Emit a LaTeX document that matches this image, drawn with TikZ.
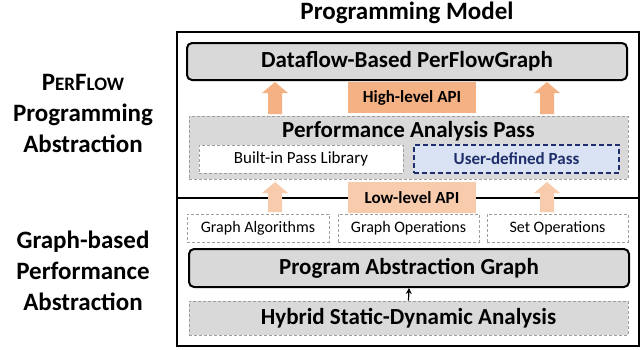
\documentclass[tikz,border=0pt]{standalone}
\usepackage{fontspec}
\setmainfont{Carlito}
\usetikzlibrary{arrows.meta}
\definecolor{boxgray}{HTML}{D9D9D9}
\definecolor{dashgray}{HTML}{9E9E9E}
\definecolor{hiorange}{HTML}{F4B183}
\definecolor{loorange}{HTML}{F8CBAD}
\definecolor{userblue}{HTML}{DAE3F3}
\definecolor{navy}{HTML}{1F2F6B}
\tikzset{
  mainbox/.style={draw=black, line width=2pt, rounded corners=5pt, fill=boxgray, inner sep=0pt},
  dashbox/.style={draw=dashgray, line width=0.9pt, dash pattern=on 3pt off 2pt, inner sep=0pt},
  apibox/.style={inner sep=0pt, font=\bfseries\fontsize{17}{20}\selectfont},
  bigtext/.style={font=\bfseries\fontsize{23}{28}\selectfont},
  smalltext/.style={font=\fontsize{16}{19}\selectfont},
  sidelabel/.style={align=center, font=\bfseries\fontsize{25}{31}\selectfont},
}
\begin{document}
\begin{tikzpicture}[x=1pt,y=-1pt]
\useasboundingbox (0,0) rectangle (642,349);
% title
\node[font=\bfseries\fontsize{25}{30}\selectfont] (title) at (407,13) {Programming Model};
% outer frame
\node[draw=black, line width=1.2pt, minimum width=462pt, minimum height=314pt, inner sep=0pt] (frame) at (408,189) {};
% divider
\coordinate (divL) at (177,198);
\coordinate (divR) at (639,198);
\draw[line width=1.2pt] (divL) -- (divR);
% side labels
\node[sidelabel] (lblA) at (83,113) {P{\fontsize{19}{31}\selectfont ER}F{\fontsize{19}{31}\selectfont LOW}\\Programming\\Abstraction};
\node[sidelabel] (lblB) at (83,271) {Graph-based\\Performance\\Abstraction};
% top
\node[mainbox, bigtext, minimum width=440pt, minimum height=37pt] (pfg) at (407,61.5) {Dataflow-Based PerFlowGraph};
\node[apibox, fill=hiorange, minimum width=128pt, minimum height=31pt] (hapi) at (412,97.5) {High-level API};
% pass box
\node[dashbox, fill=boxgray, minimum width=439pt, minimum height=63pt] (pap) at (408.5,147.5) {};
\node[bigtext] (paptxt) at (408.5,131) {Performance Analysis Pass};
\node[dashbox, fill=white, font=\fontsize{17}{20}\selectfont, minimum width=204pt, minimum height=28pt] (lib) at (301,159) {Built-in Pass Library};
\node[draw=navy, line width=1.8pt, dash pattern=on 5pt off 3pt, fill=userblue, inner sep=0pt, text=navy, font=\bfseries\fontsize{17}{20}\selectfont, minimum width=205pt, minimum height=28pt] (user) at (516.5,159) {User-defined Pass};
% upper arrows
\foreach \cx in {275,547} {
  \fill[hiorange] (\cx-7,114) -- (\cx-7,93) -- (\cx-13,93) -- (\cx,82) -- (\cx+13,93) -- (\cx+7,93) -- (\cx+7,114) -- cycle;
}
% lower arrows
\foreach \cx in {275,547} {
  \fill[loorange] (\cx-7,212) -- (\cx-7,193) -- (\cx-13,193) -- (\cx,182) -- (\cx+13,193) -- (\cx+7,193) -- (\cx+7,212) -- cycle;
}
\node[apibox, fill=loorange, minimum width=128pt, minimum height=31pt] (lapi) at (412,197.5) {Low-level API};
% operations
\node[dashbox, smalltext, minimum width=142pt, minimum height=28pt] (galg) at (258,228) {Graph Algorithms};
\node[dashbox, smalltext, minimum width=141pt, minimum height=28pt] (gops) at (408.5,228) {Graph Operations};
\node[dashbox, smalltext, minimum width=141pt, minimum height=28pt] (sops) at (557.5,228) {Set Operations};
% PAG
\node[mainbox, bigtext, minimum width=440pt, minimum height=38pt] (pag) at (409,268) {Program Abstraction Graph};
\node[dashbox, fill=boxgray, bigtext, minimum width=439pt, minimum height=34pt] (hyb) at (408.5,318) {Hybrid Static-Dynamic Analysis};
\draw[line width=1.2pt, -{Stealth[length=6pt,width=6pt]}] (hyb.north) -- (pag.south);
\end{tikzpicture}
\end{document}
